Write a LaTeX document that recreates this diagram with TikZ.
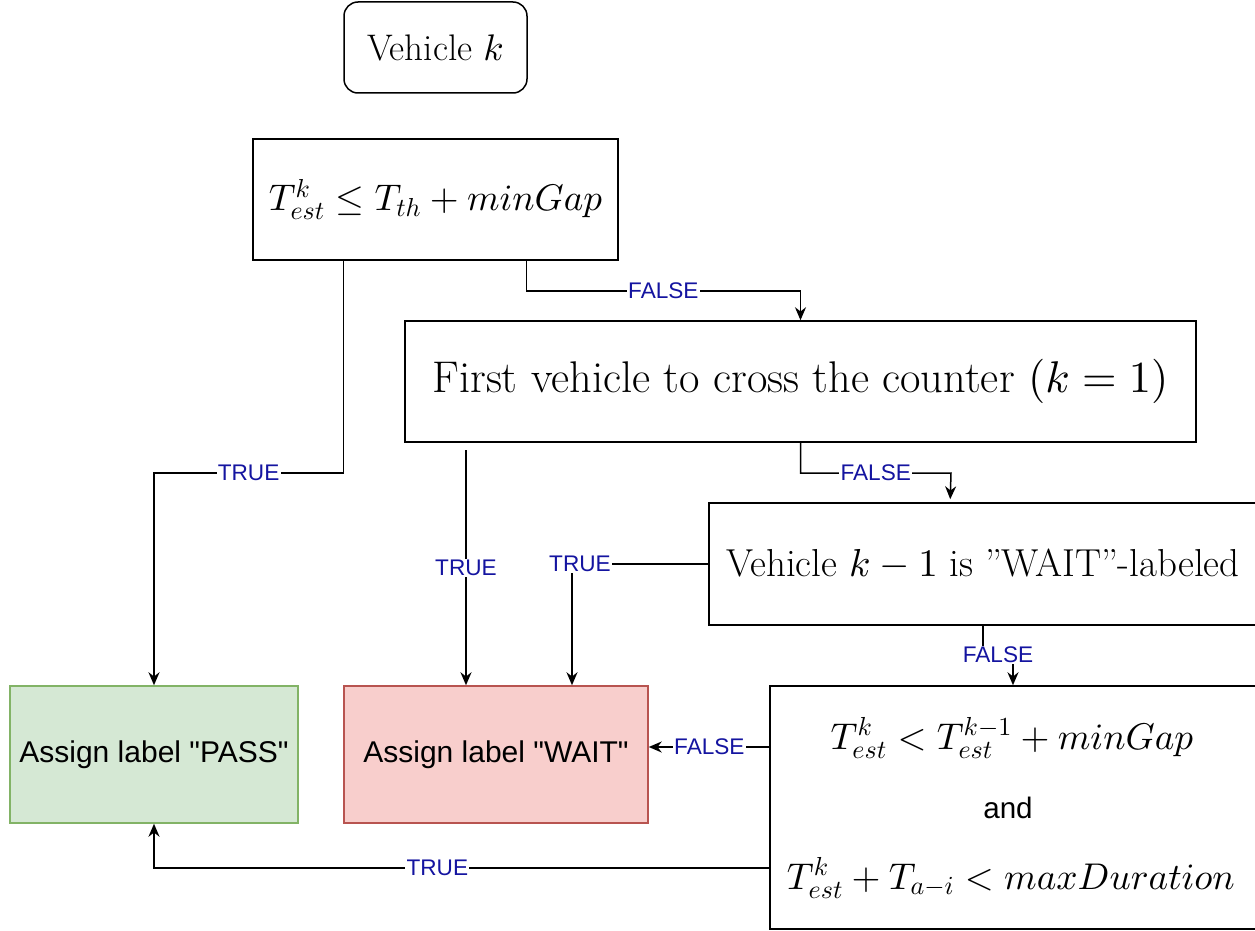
\documentclass[tikz,border=0pt]{standalone}
\usepackage{fontspec}
\newfontfamily\arial{Liberation Sans}
\DeclareFontShape{OML}{cmm}{m}{it}{<->cmmi10}{}
\DeclareFontShape{OMS}{cmsy}{m}{n}{<->cmsy10}{}
\DeclareFontShape{OT1}{cmr}{m}{n}{<->cmr10}{}
\usetikzlibrary{arrows.meta,calc}
\definecolor{lblue}{RGB}{20,20,160}
\definecolor{passfill}{HTML}{D5E8D4}
\definecolor{passdraw}{HTML}{82B366}
\definecolor{waitfill}{HTML}{F8CECC}
\definecolor{waitdraw}{HTML}{B85450}
\newcommand{\fs}[1]{\fontsize{#1}{1.2\dimexpr#1\relax}\selectfont}
\begin{document}
\begin{tikzpicture}[x=0.5pt,y=-0.5pt,
  box/.style={draw,line width=0.75pt,inner sep=0pt,align=center},
  lbl/.style={fill=white,inner sep=0.6pt,text=lblue,font=\arial\fs{11.3pt}},
  arr/.style={line width=0.75pt,-{Stealth[length=6.5pt,width=5.5pt]}},
  ln/.style={line width=0.75pt}]
\clip (0,0) rectangle (1255,931);
\fill[white] (0,0) rectangle (1255,931);
\node[box,rounded corners=7pt,minimum width=91.5pt,minimum height=45.5pt,font=\fs{18.5pt}] (veh) at (435.5,47.5) {Vehicle $k$};
\node[box,minimum width=182.5pt,minimum height=60.5pt,font=\fs{18.55pt}] (b1) at (435.5,199.5) {$T^k_{est} \leq T_{th} + minGap$};
\node[box,minimum width=395.5pt,minimum height=60.5pt,font=\fs{22.2pt}] (b2) at (800.5,381.5) {First vehicle to cross the counter $(k=1)$};
\node[box,minimum width=274pt,minimum height=61pt,font=\fs{19.5pt}] (b3) at (983,564) {Vehicle $k-1$ is ''WAIT''-labeled};
\node[box,minimum width=243pt,minimum height=121.5pt] (b4) at (1013,807.5) {};
\node[font=\fs{18.6pt}] (b4a) at (1012,738) {$T^k_{est} < T^{k-1}_{est} + minGap$};
\node[font=\arial\fs{14.8pt}] (b4b) at (1008,808) {and};
\node[font=\fs{18.6pt}] (b4c) at (1011,878) {$T^k_{est} + T_{a-i} < maxDuration$};
\node[box,fill=passfill,draw=passdraw,minimum width=144pt,minimum height=68.5pt,font=\arial\fs{15pt}] (pass) at (154,754.5) {Assign label "PASS"};
\node[box,fill=waitfill,draw=waitdraw,minimum width=152pt,minimum height=68.5pt,font=\arial\fs{15pt}] (wait) at (496,754.5) {Assign label "WAIT"};
% connectors
\coordinate (c1) at (154,473);
\draw[arr] ($(b1.south west)+(91,0)$) |- (c1) node[lbl,pos=0.75] {TRUE} -- (pass.north);
\coordinate (c2) at (800.5,291);
\draw[arr] ($(b1.south west)+(274,0)$) |- (c2) node[lbl,pos=0.75] {FALSE} -- (b2.north);
\coordinate (c3) at (466,450);
\draw[arr] (c3) -- (c3 |- wait.north) node[lbl,midway] {TRUE};
\coordinate (c4) at (951,473);
\draw[arr] (b2.south) |- (c4) node[lbl,pos=0.75] {FALSE} -- ($(b3.north west)+(242,-3)$);
\coordinate (c5) at (572,564);
\draw[arr] (b3.west) -- (c5) node[lbl,pos=1,xshift=4pt] {TRUE} -- (c5 |- wait.north);
\coordinate (c6) at (1013,655);
\draw[arr] (b3.south) |- (c6) node[lbl,pos=0.75] {FALSE} -- (b4.north);
\coordinate (c7) at (770,747);
\draw[arr] (c7) -- (c7 -| wait.east) node[lbl,midway] {FALSE};
\coordinate (c8) at (770,868);
\draw[arr] (c8) -| (pass.south) node[lbl,pos=0.27] {TRUE};
\end{tikzpicture}
\end{document}
